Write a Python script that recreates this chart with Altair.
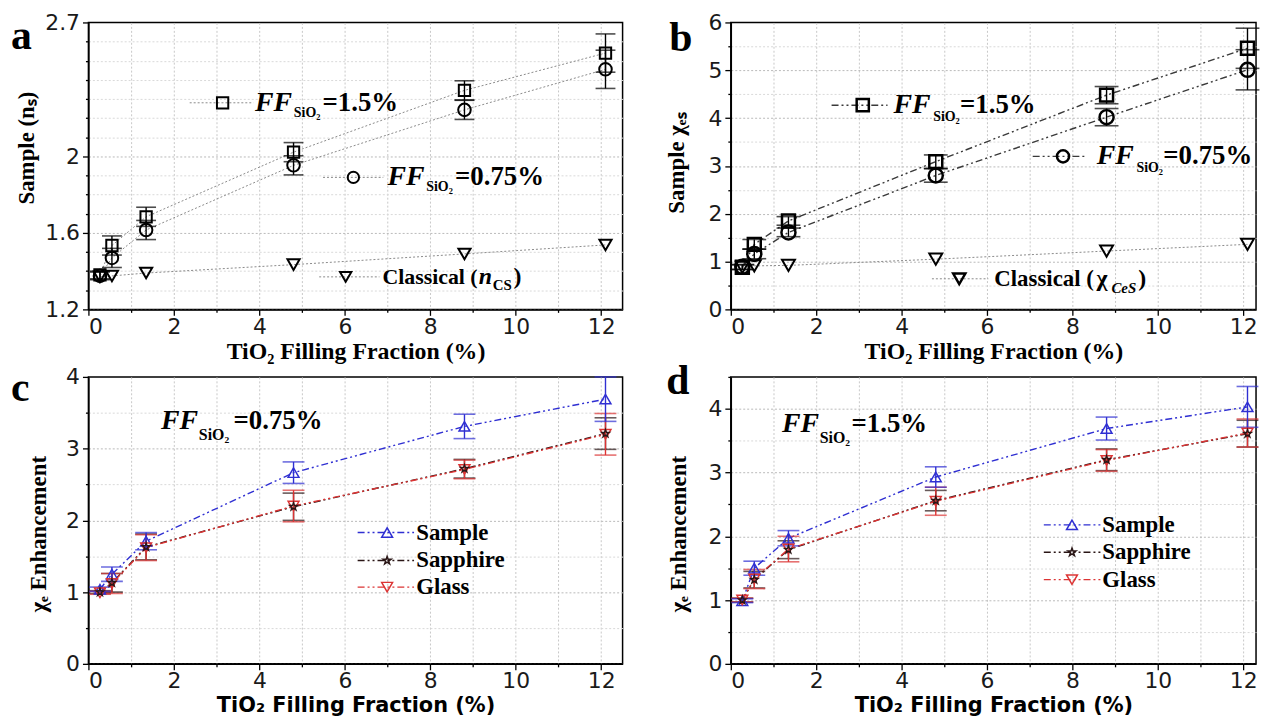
import altair as alt
import pandas as pd

# ---------------- data ----------------
x_frac = [0.27, 0.55, 1.35, 4.8, 8.8, 12.1]

a_ff15 = [1.38, 1.534, 1.684, 2.022, 2.345, 2.54]
a_ff15_err = [0.02, 0.05, 0.05, 0.05, 0.05, 0.10]
a_ff075 = [1.375, 1.469, 1.615, 1.953, 2.243, 2.455]
a_ff075_err = [0.02, 0.05, 0.05, 0.05, 0.05, 0.10]
a_classical = [1.37, 1.375, 1.39, 1.434, 1.49, 1.537]

b_ff15 = [0.88, 1.36, 1.85, 3.09, 4.48, 5.46]
b_ff15_err = [0.05, 0.10, 0.09, 0.14, 0.18, 0.42]
b_ff075 = [0.89, 1.16, 1.61, 2.80, 4.02, 5.01]
b_ff075_err = [0.05, 0.10, 0.09, 0.14, 0.18, 0.42]
b_classical = [0.88, 0.91, 0.92, 1.05, 1.22, 1.36]

c_sample = [1.04, 1.25, 1.71, 2.665, 3.31, 3.69]
c_sample_err = [0.03, 0.10, 0.12, 0.15, 0.17, 0.31]
c_sapphire = [1.0, 1.13, 1.63, 2.19, 2.72, 3.21]
c_sapphire_err = [0.02, 0.13, 0.18, 0.19, 0.13, 0.22]
c_glass = [0.99, 1.12, 1.62, 2.20, 2.71, 3.20]
c_glass_err = [0.02, 0.14, 0.18, 0.22, 0.13, 0.29]

d_sample = [0.99, 1.50, 1.97, 2.93, 3.69, 4.03]
d_sample_err = [0.03, 0.11, 0.12, 0.16, 0.18, 0.32]
d_sapphire = [1.0, 1.32, 1.79, 2.56, 3.20, 3.61]
d_sapphire_err = [0.03, 0.13, 0.14, 0.16, 0.17, 0.21]
d_glass = [1.0, 1.33, 1.80, 2.55, 3.19, 3.62]
d_glass_err = [0.03, 0.15, 0.20, 0.22, 0.17, 0.22]

# tick values / labels
x_ticks = [0, 1, 2, 3, 4, 5, 6, 7, 8, 9, 10, 11, 12]
a_y_ticks = [1.2, 1.3, 1.4, 1.5, 1.6, 1.7, 1.8, 1.9, 2.0, 2.1, 2.2, 2.3, 2.4, 2.5, 2.6, 2.7]
a_y_labels = [1.2, 1.6, 2, 2.7]
b_y_ticks = [0, 0.5, 1, 1.5, 2, 2.5, 3, 3.5, 4, 4.5, 5, 5.5, 6]
c_y_ticks = [0, 0.5, 1, 1.5, 2, 2.5, 3, 3.5, 4]
d_y_ticks = [0, 0.5, 1, 1.5, 2, 2.5, 3, 3.5, 4, 4.5]

panel_letters = ["a", "b", "c", "d"]
x_title = "TiO₂ Filling Fraction (%)"
y_titles = ["Sample (nₛ)", "Sample χₑₛ", "χₑ Enhancement", "χₑ Enhancement"]

# in-plot keys (line start, line end, marker x, y) and text anchors
a_key_x0 = [2.37, 5.49, 5.40]
a_key_x1 = [3.86, 6.90, 6.81]
a_key_xm = [3.14, 6.20, 6.02]
a_key_y = [2.28, 1.89, 1.37]
a_key_tx = [3.90, 7.00, 6.88]

b_key_x0 = [2.36, 7.07, 4.71]
b_key_x1 = [3.67, 8.30, 6.03]
b_key_xm = [3.09, 7.78, 5.35]
b_key_y = [4.27, 3.20, 0.64]
b_key_tx = [3.81, 8.57, 6.17]

cd_names = ["Sample", "Sapphire", "Glass"]
c_key_x0, c_key_x1, c_key_xm, c_key_tx = 6.30, 7.62, 6.99, 7.67
c_key_y = [1.83, 1.44, 1.07]
d_key_x0, d_key_x1, d_key_xm, d_key_tx = 7.33, 8.66, 7.99, 8.70
d_key_y = [2.18, 1.75, 1.32]
c_ff_xy = (1.70, 3.38)
d_ff_xy = (1.20, 3.76)

# ---------------- styling ----------------
SERIF = "Liberation Serif"
SANS = "DejaVu Sans"
STAR = ("M0,-1L0.2245,-0.309L0.951,-0.309L0.363,0.118L0.588,0.809L0,0.382"
        "L-0.588,0.809L-0.363,0.118L-0.951,-0.309L-0.2245,-0.309Z")
DDOT = [7, 3, 2, 3, 2, 3]
BLUE = "#2f2fd2"
RED = "#dc3434"
DARK = "#2a1616"


def series_df(vals, errs=None):
    d = {"x": x_frac, "y": vals}
    if errs is not None:
        d["lo"] = [v - e for v, e in zip(vals, errs)]
        d["hi"] = [v + e for v, e in zip(vals, errs)]
    return pd.DataFrame(d)


def make_xaxis(title_font, title_size):
    return alt.Axis(
        values=x_ticks, title=x_title, titleFont=title_font, titleFontSize=title_size,
        titleY=42, titleBaseline="middle",
        labelExpr="datum.value % 2 == 0 ? toString(datum.value) : ''",
        tickSize={"condition": {"test": "datum.value % 2 == 0", "value": 6}, "value": 3},
        gridOpacity={"condition": {"test": "datum.value == 0", "value": 0}, "value": 1},
        labelPadding=1,
    )


def make_yaxis(values, major_test, label_expr, title, tx, ty, top):
    return alt.Axis(
        values=values, title=title, titleFont=SERIF, titleFontSize=23,
        titleAngle=270, titleX=tx, titleY=ty, titleAlign="center", titleBaseline="middle",
        labelExpr=label_expr,
        tickSize={"condition": {"test": major_test, "value": 6}, "value": 3},
        gridColor={"condition": {"test": major_test, "value": "#b9b9b9"}, "value": "#d9d9d9"},
        gridOpacity={"condition": {"test": "abs(datum.value - %s) < 1e-6" % top, "value": 0}, "value": 1},
        labelPadding=3,
    )


def encoders(xdom, ydom, xaxis, yaxis):
    xs = alt.Scale(domain=xdom, nice=False, zero=False)
    ys = alt.Scale(domain=ydom, nice=False, zero=False)

    def X(f):
        return alt.X(f, type="quantitative", scale=xs, axis=xaxis)

    def Y(f):
        return alt.Y(f, type="quantitative", scale=ys, axis=yaxis)
    return X, Y


def series_layers(X, Y, vals, errs, color, line_color, dash, line_w, shape, size, sw, cap):
    base = alt.Chart(series_df(vals, errs))
    line = base.mark_line(color=line_color, strokeWidth=line_w, strokeDash=dash).encode(
        x=X("x"), y=Y("y"))
    errl = []
    if errs is not None:
        errl = [
            base.mark_rule(color=color, strokeWidth=1.4).encode(x=X("x"), y=Y("lo"), y2=alt.Y2("hi")),
            base.mark_tick(color=color, orient="horizontal", size=cap, thickness=1.6).encode(
                x=X("x"), y=Y("lo")),
            base.mark_tick(color=color, orient="horizontal", size=cap, thickness=1.6).encode(
                x=X("x"), y=Y("hi")),
        ]
    pts = base.mark_point(shape=shape, size=size, filled=False, color=color,
                          strokeWidth=sw, opacity=1).encode(x=X("x"), y=Y("y"))
    return line, errl, pts


def key_layers(X, Y, x0, x1, xm, y, color, line_color, dash, line_w, shape, size, sw):
    df = pd.DataFrame({"x0": [x0], "x1": [x1], "xm": [xm], "y": [y]})
    rule = alt.Chart(df).mark_rule(color=line_color, strokeWidth=line_w, strokeDash=dash).encode(
        x=X("x0"), x2=alt.X2("x1"), y=Y("y"))
    pt = alt.Chart(df).mark_point(shape=shape, size=size, filled=False, color=color,
                                  strokeWidth=sw, opacity=1).encode(x=X("xm"), y=Y("y"))
    return [rule, pt]


def text_layers(X, Y, x, y, pieces):
    df = pd.DataFrame({"x": [x], "y": [y]})
    out = []
    for t, dx, dy, size, italic in pieces:
        out.append(alt.Chart(df).mark_text(
            text=t, dx=dx, dy=dy, fontSize=size, font=SERIF, fontWeight="bold",
            fontStyle="italic" if italic else "normal", align="left", baseline="middle",
            color="black").encode(x=X("x"), y=Y("y")))
    return out


def letter_layer(letter, lx, ly):
    return alt.Chart(pd.DataFrame({"t": [letter]})).mark_text(
        font=SERIF, fontSize=42, fontWeight="bold", align="left", baseline="alphabetic",
        color="black").encode(x=alt.value(lx), y=alt.value(ly), text="t:N")


def ff_pieces(val, sub_dx, sub_size, eq_dx, dy):
    return [("FF", 0, 0, 28, True), ("SiO₂", sub_dx, dy, sub_size, False), ("=" + val, eq_dx, 0, 27, False)]


# ---------------- panel a ----------------
Xa, Ya = encoders(
    [0, 12.5], [1.2, 2.7], make_xaxis(SERIF, 24),
    make_yaxis(a_y_ticks, "indexof([1.2, 1.6, 2, 2.7], round(datum.value*10)/10) >= 0",
               "indexof([1.2, 1.6, 2, 2.7], round(datum.value*10)/10) >= 0 ? toString(round(datum.value*10)/10) : ''",
               y_titles[0], -62, 126, 2.7))
GRAY = "#8a8a8a"
la1, ea1, pa1 = series_layers(Xa, Ya, a_ff15, a_ff15_err, "black", GRAY, [2, 2], 1, "square", 130, 2, 20)
la2, ea2, pa2 = series_layers(Xa, Ya, a_ff075, a_ff075_err, "black", GRAY, [2, 2], 1, "circle", 160, 2, 20)
la3, ea3, pa3 = series_layers(Xa, Ya, a_classical, None, "black", GRAY, [2, 2], 1, "triangle-down", 150, 2, 20)
a_shapes = ["square", "circle", "triangle-down"]
a_keys = []
for i in range(3):
    a_keys += key_layers(Xa, Ya, a_key_x0[i], a_key_x1[i], a_key_xm[i], a_key_y[i], "black", GRAY,
                         [2, 2], 1, a_shapes[i], 130, 2)
a_texts = (text_layers(Xa, Ya, a_key_tx[0], a_key_y[0], ff_pieces("1.5%", 39, 14, 68, 10))
           + text_layers(Xa, Ya, a_key_tx[1], a_key_y[1], ff_pieces("0.75%", 39, 14, 68, 10))
           + text_layers(Xa, Ya, a_key_tx[2], a_key_y[2],
                         [("Classical (", 0, 0, 22, False), ("n", 97, 0, 24, True),
                          ("CS", 111, 8, 15, False), (")", 132, 0, 24, False)]))
panel_a = alt.layer(la1, la2, la3, *ea1, *ea2, pa1, pa2, pa3, *a_keys, *a_texts,
                    letter_layer(panel_letters[0], -78, 27)).properties(width=538, height=289)

# ---------------- panel b ----------------
Xb, Yb = encoders(
    [0, 12.3], [0, 6], make_xaxis(SERIF, 24),
    make_yaxis(b_y_ticks, "datum.value % 1 == 0",
               "datum.value % 1 == 0 ? toString(datum.value) : ''", y_titles[1], -55, 141, 6))
DG = "#3a3a3a"
lb1, eb1, pb1 = series_layers(Xb, Yb, b_ff15, b_ff15_err, "black", DG, DDOT, 1.4, "square", 170, 2.5, 24)
lb2, eb2, pb2 = series_layers(Xb, Yb, b_ff075, b_ff075_err, "black", DG, DDOT, 1.4, "circle", 200, 2.5, 24)
lb3, eb3, pb3 = series_layers(Xb, Yb, b_classical, None, "black", GRAY, [2, 2], 1, "triangle-down", 170, 2, 24)
b_keys = []
b_key_line = [(DG, DDOT, 1.4), (DG, DDOT, 1.4), (GRAY, [2, 2], 1)]
for i in range(3):
    lc, ld, lw = b_key_line[i]
    b_keys += key_layers(Xb, Yb, b_key_x0[i], b_key_x1[i], b_key_xm[i], b_key_y[i], "black", lc,
                         ld, lw, a_shapes[i], 150, 2.5)
b_texts = (text_layers(Xb, Yb, b_key_tx[0], b_key_y[0], ff_pieces("1.5%", 40, 14, 67, 12))
           + text_layers(Xb, Yb, b_key_tx[1], b_key_y[1], ff_pieces("0.75%", 40, 14, 67, 12))
           + text_layers(Xb, Yb, b_key_tx[2], b_key_y[2],
                         [("Classical (", 0, 0, 23, False), ("χ", 103, 0, 24, False),
                          ("CeS", 118, 9, 15, True), (")", 145, 0, 24, False)]))
panel_b = alt.layer(lb1, lb2, lb3, *eb1, *eb2, pb1, pb2, pb3, *b_keys, *b_texts,
                    letter_layer(panel_letters[1], -62, 29)).properties(width=529, height=289)


# ---------------- panels c and d ----------------
def cd_panel(ymax, yticks, sample, sample_e, sapph, sapph_e, glass, glass_e,
             kx0, kx1, kxm, ktx, ky, ffxy, ffval, letter, lx, ly, ty, width, sub_dx, eq_dx):
    X, Y = encoders(
        [0, 12.5 if width > 530 else 12.3], [0, ymax], make_xaxis(SANS, 21),
        make_yaxis(yticks, "datum.value % 1 == 0",
                   "datum.value % 1 == 0 ? toString(datum.value) : ''", "χₑ Enhancement", ty, 158, ymax))
    ls, es, ps = series_layers(X, Y, sample, sample_e, BLUE, BLUE, DDOT, 1.4, "triangle-up", 120, 1.5, 22)
    lsa, esa, psa = series_layers(X, Y, sapph, sapph_e, DARK, DARK, DDOT, 1.4, STAR, 70, 1.3, 22)
    lg, eg, pg = series_layers(X, Y, glass, glass_e, RED, RED, DDOT, 1.4, "triangle-down", 120, 1.5, 22)
    colors = [BLUE, DARK, RED]
    shapes = ["triangle-up", STAR, "triangle-down"]
    sizes = [120, 70, 120]
    keys = []
    for i in range(3):
        keys += key_layers(X, Y, kx0, kx1, kxm, ky[i], colors[i], colors[i], DDOT, 1.4,
                           shapes[i], sizes[i], 1.5)
        keys += text_layers(X, Y, ktx, ky[i], [(cd_names[i], 0, 0, 23, False)])
    ff = text_layers(X, Y, ffxy[0], ffxy[1], ff_pieces(ffval, sub_dx, 16, eq_dx, 14))
    return alt.layer(ls, lsa, lg, *esa, *eg, *es, ps, pg, psa, *keys, *ff,
                     letter_layer(letter, lx, ly)).properties(width=width, height=289)


panel_c = cd_panel(4, c_y_ticks, c_sample, c_sample_err, c_sapphire, c_sapphire_err, c_glass, c_glass_err,
                   c_key_x0, c_key_x1, c_key_xm, c_key_tx, c_key_y, c_ff_xy, "0.75%",
                   panel_letters[2], -78, 24, -50, 538, 38, 73)
panel_d = cd_panel(4.5, d_y_ticks, d_sample, d_sample_err, d_sapphire, d_sapphire_err, d_glass, d_glass_err,
                   d_key_x0, d_key_x1, d_key_xm, d_key_tx, d_key_y, d_ff_xy, "1.5%",
                   panel_letters[3], -65, 17, -53, 529, 38, 70)

chart = alt.concat(
    panel_a, panel_b, panel_c, panel_d, columns=2,
    spacing={"row": 68, "column": 109}, bounds="flush",
).properties(
    padding={"left": 2, "top": 0, "right": 0, "bottom": 0},
    background="white",
).configure_view(
    stroke="black", strokeWidth=1.5
).configure_axis(
    domainColor="black", domainWidth=1.5, tickColor="black", tickWidth=1.3,
    labelFont=SANS, labelFontSize=22, labelColor="#1a1a1a",
    titleColor="black", titleFontWeight="bold",
    gridDash=[2, 2], gridWidth=1, gridColor="#c8c8c8",
)

chart.save("out.html", embed_options={"renderer": "svg", "actions": False})
